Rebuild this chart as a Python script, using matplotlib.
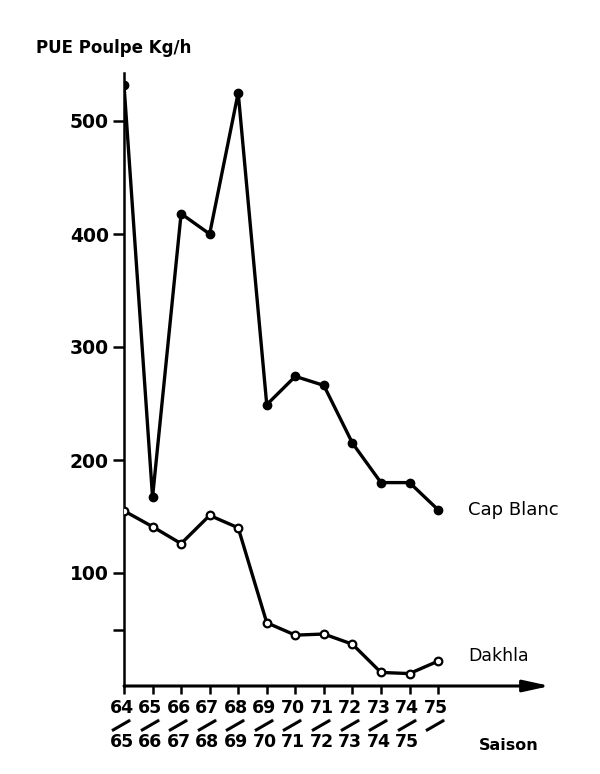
import matplotlib
matplotlib.use("Agg")
from matplotlib import pyplot as plt

# saisons 64/65 ... 75/76
saison_debut = ["64", "65", "66", "67", "68", "69", "70", "71", "72", "73", "74", "75"]
saison_fin = ["65", "66", "67", "68", "69", "70", "71", "72", "73", "74", "75", ""]

# PUE poulpe (kg/h)
cap_blanc = [532, 167, 418, 400, 525, 249, 274, 266, 215, 180, 180, 156]
dakhla = [155, 141, 126, 151, 140, 56, 45, 46, 37, 12, 11, 22]

y_ticks = [50, 100, 200, 300, 400, 500]
y_labels = ["", "100", "200", "300", "400", "500"]

W, H = 600, 774
fig = plt.figure(figsize=(W / 100, H / 100), dpi=100)

# axe placé en pixels: origine (124, 686), haut 73, fleche jusqu'a 550
x0, y0, x1, y1 = 124, 686, 550, 73
ax = fig.add_axes([x0 / W, (H - y0) / H, (x1 - x0) / W, (y0 - y1) / H])
px_par_saison = 28.55
ax.set_xlim(0, (x1 - x0) / px_par_saison)
ax.set_ylim(0, (y0 - y1) / 1.13)

x = list(range(len(saison_debut)))

ax.plot(x, cap_blanc, color="black", lw=2.4, marker="o", ms=6,
        mfc="black", mec="black", solid_joinstyle="round", zorder=3)
ax.plot(x, dakhla, color="black", lw=2.4, marker="o", ms=5.5,
        mfc="white", mec="black", mew=1.6, solid_joinstyle="round", zorder=3)

# axes
for s in ["top", "right", "bottom"]:
    ax.spines[s].set_visible(False)
ax.spines["left"].set_linewidth(1.8)
ax.annotate("", xy=(1, 0), xytext=(0, 0), xycoords="axes fraction",
            arrowprops=dict(arrowstyle="-|>,head_length=1.6,head_width=0.35",
                            color="black", lw=2.2, shrinkA=0, shrinkB=0))

ax.set_yticks(y_ticks)
ax.set_yticklabels(y_labels, fontsize=13.5, fontweight="bold")
ax.tick_params(axis="y", direction="out", length=8, width=1.8, pad=3)

ax.set_xticks(x)
ax.set_xticklabels([])
ax.tick_params(axis="x", direction="out", length=6, width=1.8)

trans = ax.get_xaxis_transform()
h_ax = y0 - y1
for i in x:
    ax.text(i - 0.08, -22 / h_ax, saison_debut[i], transform=trans,
            ha="center", va="center", fontsize=12.5, fontweight="bold")
    ax.text(i - 0.1, -38 / h_ax, "\u2014", transform=trans, ha="center",
            va="center", fontsize=17, fontweight="bold", rotation=30)
    if saison_fin[i]:
        ax.text(i - 0.08, -56 / h_ax, saison_fin[i], transform=trans,
                ha="center", va="center", fontsize=12.5, fontweight="bold")

ax.annotate("Cap Blanc", xy=(x[-1], cap_blanc[-1]), xytext=(30, 0),
            textcoords="offset pixels", ha="left", va="center", fontsize=13,
            fontweight="medium")
ax.annotate("Dakhla", xy=(x[-1], dakhla[-1]), xytext=(30, 5),
            textcoords="offset pixels", ha="left", va="center", fontsize=12.5,
            fontweight="medium")

fig.text(36 / W, 1 - 48 / H, "PUE Poulpe Kg/h", ha="left", va="center",
         fontsize=12, fontweight="bold")
fig.text(509 / W, 1 - 746 / H, "Saison", ha="center", va="center",
         fontsize=11.5, fontweight="bold")

fig.savefig("out.png", dpi=100)
